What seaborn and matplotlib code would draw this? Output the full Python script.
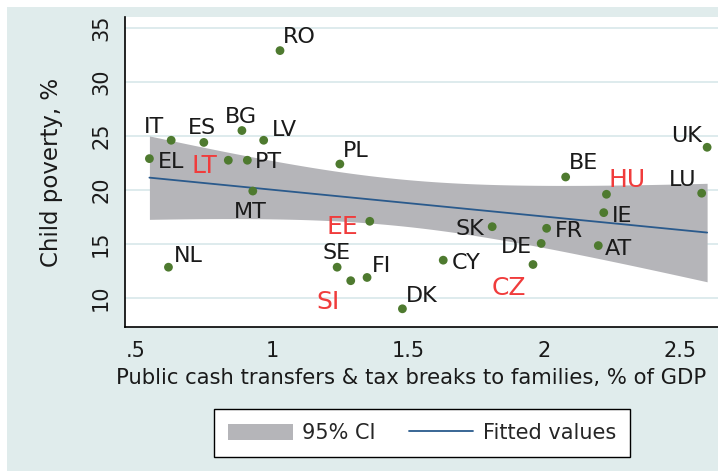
import numpy as np
import pandas as pd
import matplotlib
matplotlib.use("Agg")
import matplotlib.pyplot as plt
from matplotlib.patches import Patch, Rectangle
from matplotlib.lines import Line2D
import seaborn as sns

countries = ['RO', 'IT', 'ES', 'BG', 'LV', 'EL', 'LT', 'PT', 'PL', 'MT',
             'EE', 'NL', 'SE', 'SI', 'FI', 'DK', 'CY', 'SK', 'FR', 'DE',
             'AT', 'CZ', 'IE', 'HU', 'LU', 'BE', 'UK']
transfers = [1.03, 0.63, 0.75, 0.89, 0.97, 0.55, 0.84, 0.91, 1.25, 0.93,
             1.36, 0.62, 1.24, 1.29, 1.35, 1.48, 1.63, 1.81, 2.01, 1.99,
             2.20, 1.96, 2.22, 2.23, 2.58, 2.08, 2.60]
poverty = [32.9, 24.6, 24.4, 25.5, 24.6, 22.9, 22.75, 22.75, 22.4, 19.9,
           17.1, 12.85, 12.85, 11.6, 11.9, 9.0, 13.5, 16.6, 16.45, 15.05,
           14.85, 13.1, 17.9, 19.6, 19.7, 21.2, 23.95]
red_labels = ['LT', 'EE', 'SI', 'CZ', 'HU']

# label placement: (dx px, dy px to baseline, ha)
label_off = {'RO': (3, 8, 'left'), 'IT': (-7, 7, 'right'), 'ES': (-2, 8, 'center'),
             'BG': (-1, 8, 'center'), 'LV': (8, 4, 'left'), 'EL': (8, -9, 'left'),
             'LT': (-11, -13, 'right'), 'PT': (8, -8, 'left'), 'PL': (3, 7, 'left'),
             'MT': (-2, -27, 'center'), 'EE': (-12, -13, 'right'), 'NL': (5, 5, 'left'),
             'SE': (-1, 8, 'center'), 'FI': (5, 5, 'left'), 'SI': (-11, -28, 'right'),
             'DK': (3, 7, 'left'), 'CY': (9, -9, 'left'), 'SK': (-8, -8, 'right'),
             'FR': (8, -9, 'left'), 'DE': (-9, -10, 'right'), 'AT': (7, -9, 'left'),
             'CZ': (-7, -30, 'right'), 'IE': (8, -9, 'left'), 'HU': (2, 7, 'left'),
             'LU': (-5, 7, 'right'), 'BE': (3, 8, 'left'), 'UK': (-5, 5, 'right')}

df = pd.DataFrame({'country': countries, 'x': transfers, 'y': poverty})

# OLS fit with 95% CI of the mean prediction (like stata lfitci)
x = df['x'].values
y = df['y'].values
n = len(x)
b, a = np.polyfit(x, y, 1)
resid = y - (a + b * x)
s = np.sqrt(np.sum(resid ** 2) / (n - 2))
xs = np.linspace(x.min(), x.max(), 200)
fit = a + b * xs
se = s * np.sqrt(1 / n + (xs - x.mean()) ** 2 / np.sum((x - x.mean()) ** 2))
tval = 2.0595  # t(0.975, 25)
lo = fit - tval * se
hi = fit + tval * se

sns.set_style("white")
plt.rcParams['font.family'] = ['DejaVu Sans']

bg = '#e0ecec'
band = '#b5b5b9'
navy = '#2a5a8c'
fig = plt.figure(figsize=(7.18, 4.71), dpi=100, facecolor='white')
fig.patches.append(Rectangle((7 / 718, 0), 1, 1 - 7 / 471, transform=fig.transFigure,
                             facecolor=bg, edgecolor='none', zorder=-10))
ax = fig.add_axes([0.174, 0.3047, 0.826, 0.659])
ax.set_facecolor('white')

ax.fill_between(xs, lo, hi, color=band, linewidth=0, zorder=1)
sns.lineplot(x=xs, y=fit, color=navy, linewidth=1.3, ax=ax, zorder=2)
sns.scatterplot(data=df, x='x', y='y', color='#4e7a2f', s=40, marker='o',
                edgecolor='none', ax=ax, zorder=3)

for c, xv, yv in zip(countries, transfers, poverty):
    dx, dy, ha = label_off[c]
    if c in red_labels:
        col, fs = '#f03c3c', 18
    else:
        col, fs = '#1a1a1a', 16
    ax.annotate(c, (xv, yv), xytext=(dx, dy), textcoords='offset pixels',
                ha=ha, va='baseline', fontsize=fs, color=col, zorder=4)

ax.set_xlim(0.46, 2.64)
ax.set_ylim(7.27, 36.0)
ax.set_xticks([0.5, 1, 1.5, 2, 2.5])
ax.set_xticklabels(['.5', '1', '1.5', '2', '2.5'])
ax.set_yticks([10, 15, 20, 25, 30, 35])
ax.set_yticklabels(['10', '15', '20', '25', '30', '35'], rotation=90, va='center')
ax.tick_params(axis='both', labelsize=15, length=6, width=1, color='black',
               labelcolor='#1a1a1a', direction='out', pad=4)
ax.yaxis.grid(True, color='#d8e8ea', linewidth=1.2)
ax.set_axisbelow(True)
for side in ['top', 'right']:
    ax.spines[side].set_visible(False)
for side in ['left', 'bottom']:
    ax.spines[side].set_color('black')
    ax.spines[side].set_linewidth(1.2)

ax.set_xlabel('Public cash transfers & tax breaks to families, % of GDP',
              fontsize=15.2, labelpad=5, ha='left', x=-0.015, color='#1a1a1a')
ax.set_ylabel('Child poverty, %', fontsize=16.5, labelpad=20, color='#1a1a1a')

handles = [Patch(facecolor=band, edgecolor='none', label='95% CI'),
           Line2D([0], [0], color=navy, linewidth=1.3, label='Fitted values')]
leg = fig.legend(handles=handles, loc='center', ncol=2,
                 bbox_to_anchor=(422 / 718, 1 - 433 / 471), fontsize=15,
                 frameon=True, fancybox=False, edgecolor='black', framealpha=1,
                 facecolor='white', handlelength=3.1, handleheight=0.8,
                 handletextpad=0.45, columnspacing=1.6, borderpad=0.65,
                 borderaxespad=0)
leg.get_frame().set_linewidth(1.0)

fig.savefig('out.png', dpi=100, facecolor='white')
